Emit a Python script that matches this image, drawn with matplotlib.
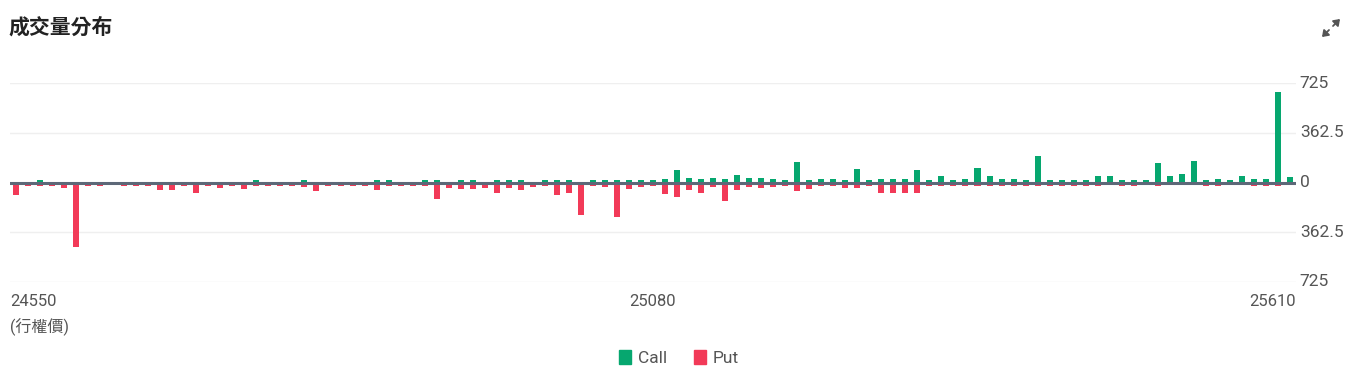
import matplotlib
matplotlib.use("Agg")
import matplotlib.pyplot as plt
from matplotlib.patches import Patch, FancyArrowPatch

plt.rcParams['font.family'] = ['Roboto', 'Noto Sans CJK TC', 'DejaVu Sans']

# strikes 24550 .. 25610, step 10
strikes = list(range(24550, 25620, 10))

call_volume = [
    0, 0, 20, 0, 0, 0, 0, 0, 0, 0,
    0, 0, 0, 0, 0, 0, 0, 0, 0, 0,
    20, 0, 0, 0, 20, 0, 0, 0, 0, 0,
    20, 20, 0, 0, 20, 20, 0, 20, 20, 0,
    20, 20, 20, 0, 20, 20, 20, 0, 20, 20,
    20, 20, 20, 20, 29, 92, 36, 29, 36, 22,
    56, 36, 36, 28, 20, 153, 20, 29, 24, 20,
    102, 20, 29, 22, 22, 88, 20, 44, 20, 22,
    109, 51, 22, 24, 20, 190, 20, 20, 20, 20,
    51, 46, 20, 20, 20, 139, 51, 63, 160, 20,
    29, 20, 51, 29, 29, 658, 39,
]

put_volume = [
    92, 25, 25, 25, 40, 470, 25, 25, 0, 25,
    25, 25, 58, 56, 25, 78, 25, 41, 25, 49,
    25, 25, 25, 25, 34, 63, 25, 28, 28, 25,
    58, 25, 25, 25, 25, 122, 37, 49, 46, 41,
    78, 41, 58, 34, 27, 90, 78, 238, 25, 34,
    253, 46, 34, 25, 85, 107, 56, 78, 34, 134,
    53, 34, 41, 31, 25, 63, 46, 27, 25, 41,
    41, 25, 73, 76, 73, 78, 25, 25, 25, 25,
    25, 25, 25, 25, 25, 25, 25, 25, 25, 25,
    25, 0, 25, 25, 0, 25, 0, 0, 0, 25,
    25, 0, 0, 25, 25, 25, 0,
]

y_ticks = [725, 362.5, 0, -362.5, -725]
y_labels = ["725", "362.5", "0", "362.5", "725"]
label_idx = [0, 53, 106]

CALL = "#06a76f"
PUT = "#f23a58"
GREY = "#555555"

W, H = 1358, 379
fig = plt.figure(figsize=(W / 100, H / 100), dpi=100)
ax = fig.add_axes([10 / W, 1 - 282 / H, 1286 / W, 199 / H])

x = list(range(len(strikes)))
ax.bar(x, call_volume, width=0.5, color=CALL, zorder=2)
ax.bar(x, [-v for v in put_volume], width=0.5, color=PUT, zorder=2)

ax.set_xlim(-0.5, len(strikes) - 0.5)
ax.set_ylim(-725, 725)

for t in y_ticks:
    if t == 0:
        ax.axhline(0, color="#5d6878", lw=2.2, zorder=3)
    else:
        ax.axhline(t, color="#efefef", lw=1, zorder=1)

for s in ax.spines.values():
    s.set_visible(False)
ax.set_xticks([])
ax.set_yticks([])

# right-side y labels
for t, lab in zip(y_ticks, y_labels):
    ax.text(1.003, (t + 725) / 1450, lab, transform=ax.transAxes,
            ha="left", va="center", fontsize=12.5, color=GREY)

# x labels (first left aligned, last right aligned)
for k, i in enumerate(label_idx):
    ha = "left" if k == 0 else ("right" if k == len(label_idx) - 1 else "center")
    xpos = -0.5 if k == 0 else (len(strikes) - 0.5 if ha == "right" else i)
    ax.text(xpos, -0.1, str(strikes[i]), transform=ax.get_xaxis_transform(),
            ha=ha, va="center", fontsize=12, color=GREY)
ax.text(-0.5, -0.225, "(行權價)", transform=ax.get_xaxis_transform(),
        ha="left", va="center", fontsize=11.5, color=GREY)

fig.text(8 / W, 1 - 27 / H, "成交量分布", ha="left", va="center",
         fontsize=15, color="#222222", fontweight="bold")

# expand icon
def px(xp, yp):
    return (xp / W, 1 - yp / H)

kw = dict(arrowstyle="-|>,head_length=0.35,head_width=0.25", color=GREY, lw=1.3,
          transform=fig.transFigure, mutation_scale=10, shrinkA=0, shrinkB=0)
fig.add_artist(FancyArrowPatch(px(1333, 26), px(1340, 19), **kw))
fig.add_artist(FancyArrowPatch(px(1329, 30), px(1322, 37), **kw))

handles = [Patch(color=CALL, label="Call"), Patch(color=PUT, label="Put")]
fig.legend(handles=handles, loc="center", bbox_to_anchor=(0.5, 1 - 358 / H), ncol=2,
           frameon=False, fontsize=12.5, handlelength=0.7, handleheight=0.9,
           handletextpad=0.4, columnspacing=1.5, labelcolor=GREY)

fig.savefig("out.png", dpi=100)
